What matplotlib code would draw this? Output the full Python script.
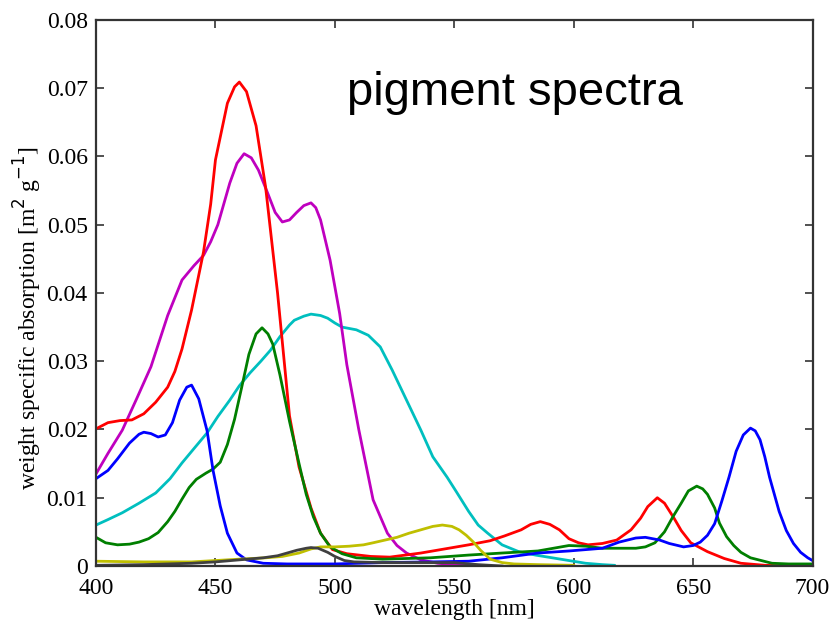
import matplotlib
matplotlib.use('Agg')
import matplotlib.pyplot as plt
import numpy as np

# pigment absorption spectra (wavelength nm, m2 g-1)
wl_red = [400, 405, 410, 415, 420, 425, 430, 433, 436, 440, 445, 448, 450, 455, 458, 460, 463, 467, 471, 476,
          481, 485, 490, 494, 499, 505, 515, 523, 536, 546, 556, 565, 571, 578, 582, 586, 590, 594, 598,
          602, 606, 612, 618, 624, 628, 631, 635, 638, 642, 645, 649, 656, 663, 670, 680, 690]
ab_red = [.0201, .0210, .0213, .0214, .0223, .0240, .0262, .0285, .0318, .0375, .0460, .0530, .0595, .0678,
          .0702, .0709, .0695, .0645, .0555, .0400, .0220, .0145, .0085, .0048, .0024, .0018, .0014,
          .0013, .0019, .0025, .0031, .0037, .0044, .0053, .0061, .0065, .0061, .0053, .0040, .0034,
          .0031, .0033, .0038, .0053, .0070, .0087, .0100, .0092, .0070, .0052, .0034, .0021, .0011,
          .0004, .0001, .0000]

wl_magenta = [400, 405, 411, 417, 423, 430, 436, 441, 445, 448, 451, 456, 459, 462, 465, 468, 472, 475,
              478, 481, 484, 487, 490, 492, 494, 498, 502, 505, 510, 516, 522, 526, 530, 536, 543, 550, 560]
ab_magenta = [.0135, .0165, .0199, .0245, .0292, .0367, .0419, .0440, .0455, .0475, .0500, .0561, .0590,
              .0604, .0598, .0580, .0545, .0518, .0504, .0507, .0518, .0528, .0532, .0525, .0507, .0448,
              .0370, .0295, .0200, .0097, .0048, .0030, .0019, .0009, .0004, .0002, .0000]

wl_blue = [400, 405, 409, 414, 418, 420, 423, 426, 429, 432, 435, 438, 440, 443, 446.5, 449, 452, 455,
           459, 463, 470, 480, 500, 520, 540, 556, 570, 585, 598, 612, 619, 626, 630, 636, 640, 646, 650,
           653, 656, 659, 662, 665, 668, 671, 674, 676, 678, 680, 682, 684, 686, 689, 692, 695, 698, 700]
ab_blue = [.0128, .0140, .0157, .0180, .0193, .0196, .0194, .0189, .0192, .0210, .0243, .0262, .0265,
           .0245, .0198, .0140, .0088, .0048, .0019, .0009, .0004, .0003, .0003, .0005, .0006, .0007,
           .0012, .0019, .0022, .0026, .0035, .0041, .0042, .0038, .0033, .0028, .0030, .0035, .0045,
           .0062, .0095, .0130, .0168, .0192, .0202, .0198, .0185, .0160, .0130, .0105, .0080, .0052,
           .0033, .0020, .0012, .0008]

wl_green = [400, 404, 409, 414, 418, 422, 426, 430, 433, 436, 439, 442, 446, 449, 452, 455, 458, 461,
            464, 467, 469.5, 472, 474, 477, 481, 485, 488, 491, 494, 498, 503, 509, 520, 540, 556, 570,
            585, 598, 605, 612, 626, 630, 634, 638, 641.5, 645, 648, 651.5, 654, 656, 659, 661, 664, 667,
            670, 674, 683, 690, 700]
ab_green = [.0042, .0034, .0031, .0032, .0035, .0040, .0049, .0065, .0080, .0098, .0115, .0127, .0136,
            .0142, .0152, .0178, .0215, .0262, .0310, .0340, .0349, .0340, .0325, .0280, .0212, .0150,
            .0105, .0072, .0048, .0028, .0018, .0012, .0010, .0012, .0016, .0019, .0022, .0030, .0029,
            .0026, .0026, .0028, .0034, .0050, .0072, .0092, .0110, .0117, .0113, .0105, .0085, .0063,
            .0043, .0030, .0020, .0012, .0004, .0003, .0003]

wl_cyan = [400, 405, 411, 418, 425, 431, 436, 441, 446.5, 451, 456, 460, 464.5, 469, 473, 477, 481, 483,
           487, 490, 494, 497, 500, 503, 506, 509, 514, 519, 524, 530, 536, 541, 547, 551, 556, 560, 564,
           570, 577, 584, 591, 598, 605, 612, 617]
ab_cyan = [.0060, .0068, .0078, .0092, .0107, .0128, .0151, .0172, .0195, .0219, .0243, .0264, .0283,
           .0300, .0316, .0336, .0353, .0360, .0366, .0369, .0367, .0363, .0356, .0350, .0348, .0346,
           .0338, .0321, .0287, .0243, .0199, .0160, .0130, .0108, .0080, .0060, .0048, .0031, .0021,
           .0016, .0012, .0008, .0004, .0002, .0001]

wl_olive = [400, 420, 440, 450, 460, 471, 478, 485, 490, 494, 500, 506, 512, 516, 521, 526, 531, 536,
            541, 545, 549, 552, 555, 558, 561, 565, 570, 575, 585, 600]
ab_olive = [.0007, .0006, .0006, .0008, .0010, .0012, .0014, .0019, .0025, .0028, .0028, .0029, .0031,
            .0034, .0038, .0042, .0048, .0053, .0058, .0060, .0058, .0053, .0045, .0035, .0023, .0010,
            .0005, .0003, .0002, .0001]

wl_gray = [400, 420, 440, 450, 460, 470, 476, 480, 484, 488, 490, 493, 497, 500, 504, 508, 520, 535,
           550, 560, 570]
ab_gray = [.0001, .0002, .0004, .0006, .0009, .0012, .0015, .0019, .0023, .0026, .0027, .0026, .0020,
           .0014, .0008, .0006, .0005, .0005, .0005, .0002, .0000]

series = [
    (wl_cyan, ab_cyan, '#00bfbf'),
    (wl_magenta, ab_magenta, '#bf00bf'),
    (wl_red, ab_red, '#ff0000'),
    (wl_green, ab_green, '#007f00'),
    (wl_blue, ab_blue, '#0000ff'),
    (wl_olive, ab_olive, '#bfbf00'),
    (wl_gray, ab_gray, '#404040'),
]

plt.rcParams['font.family'] = 'Liberation Serif'

fig = plt.figure(figsize=(8.3, 6.23), dpi=100)
ax = fig.add_axes([0.1157, 0.0915, 0.8633, 0.8765])

for wl, ab, c in series:
    ax.plot(np.array(wl), np.array(ab), color=c, lw=2.0)

ax.set_xlim(400, 700)
ax.set_ylim(0, 0.08)
ax.set_xticks(np.arange(400, 701, 50))
ax.set_yticks(np.arange(0, 0.081, 0.01))
ax.set_yticklabels(['0', '0.01', '0.02', '0.03', '0.04', '0.05', '0.06', '0.07', '0.08'])
ax.tick_params(direction='in', top=True, right=True, length=6, width=1.2,
               labelsize=17, colors='#333333', labelcolor='black')
ax.tick_params(axis='x', pad=9)
ax.tick_params(axis='y', pad=6)
for sp in ax.spines.values():
    sp.set_linewidth(1.6)
    sp.set_color('#333333')

ax.set_xlabel('wavelength [nm]', fontsize=17, labelpad=0)
ax.set_ylabel(r'weight specific absorption [m$^{2}$ g$^{-1}$]', fontsize=17)
ax.yaxis.set_label_coords(-0.073, 0.455)

fig.text(0.418, 0.832, 'pigment spectra', fontsize=34, family='Liberation Sans', va='baseline')

fig.savefig('out.png', dpi=100)
plt.close()
